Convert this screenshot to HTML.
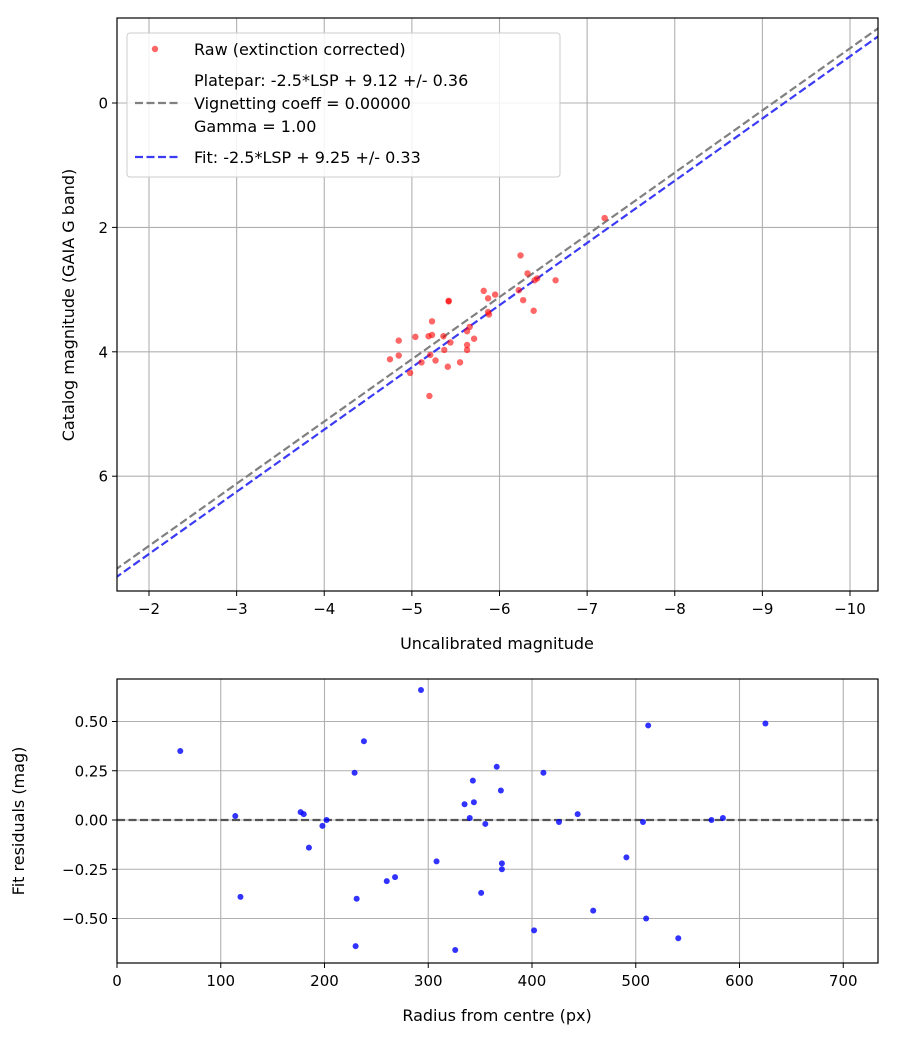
<!DOCTYPE html>
<html><head><meta charset="utf-8"><style>
body{margin:0;background:#fff;}
svg{font-family:"DejaVu Sans","Liberation Sans",sans-serif;}
</style></head><body>
<svg id="c" width="900" height="1050" xmlns="http://www.w3.org/2000/svg"></svg>
<script>
const rawX=[-7.20,-6.24,-6.32,-6.40,-6.43,-6.64,-6.22,-6.27,-6.39,-5.82,-5.87,-5.95,-5.42,-5.42,-5.87,-5.88,-5.23,-5.66,-5.63,-4.85,-5.04,-5.19,-5.23,-5.36,-5.44,-5.71,-5.63,-5.63,-5.37,-4.85,-4.75,-5.21,-5.27,-5.11,-5.55,-5.41,-4.98,-5.20];
const rawY=[1.85,2.45,2.74,2.85,2.82,2.85,3.01,3.17,3.34,3.02,3.14,3.08,3.18,3.19,3.36,3.40,3.51,3.60,3.67,3.82,3.76,3.75,3.73,3.75,3.85,3.79,3.89,3.97,3.97,4.06,4.12,4.05,4.14,4.17,4.17,4.24,4.34,4.71];
const plateOffset=9.12, fitOffset=9.25;
const resR=[61,114,119,177,180,185,198,202,229,231,230,238,260,268,293,308,326,335,340,343,344,351,355,366,370,371,371,402,411,426,444,459,491,507,510,512,541,573,584,625];
const resV=[0.35,0.02,-0.39,0.04,0.03,-0.14,-0.03,0.00,0.24,-0.40,-0.64,0.40,-0.31,-0.29,0.66,-0.21,-0.66,0.08,0.01,0.20,0.09,-0.37,-0.02,0.27,0.15,-0.22,-0.25,-0.56,0.24,-0.01,0.03,-0.46,-0.19,-0.01,-0.50,0.48,-0.60,0.00,0.01,0.49];
const topXTicks=[-2,-3,-4,-5,-6,-7,-8,-9,-10];
const topYTicks=[0,2,4,6];
const botXTicks=[0,100,200,300,400,500,600,700];
const botYTicks=[0.5,0.25,0,-0.25,-0.5];
const botYLabels=["0.50","0.25","0.00","\u22120.25","\u22120.50"];

const S=document.getElementById('c');const NS='http://www.w3.org/2000/svg';
function mk(t,a,p){const e=document.createElementNS(NS,t);for(const k in a)e.setAttribute(k,a[k]);(p||S).appendChild(e);return e;}
function txt(s,a,p){const e=mk('text',a,p);e.textContent=s;return e;}
const minus=v=>String(v).replace('-','\u2212');

const T={l:117,r:878,t:18,b:591};
const tx=v=>149+(-v-2)*87.625, ty=v=>103+v*62.2;
const gTop=mk('g',{});
topXTicks.forEach(v=>{const x=tx(v);
 const g=mk('line',{x1:x,x2:x,y1:T.t,y2:T.b,stroke:'#b0b0b0','stroke-width':1.1},gTop);
 mk('line',{x1:x,x2:x,y1:T.b,y2:T.b+5,stroke:'#000'},gTop);
 const t=txt(minus(v),{x:x,y:T.b+23,'text-anchor':'middle','font-size':15},gTop);});
topYTicks.forEach(v=>{const y=ty(v);
 const g=mk('line',{x1:T.l,x2:T.r,y1:y,y2:y,stroke:'#b0b0b0','stroke-width':1.1},gTop);
 mk('line',{x1:T.l-5,x2:T.l,y1:y,y2:y,stroke:'#000'},gTop);
 const t=txt(minus(v),{x:T.l-9,y:y+5.5,'text-anchor':'end','font-size':15},gTop);});
const cp=mk('clipPath',{id:'cp1'});mk('rect',{x:T.l,y:T.t,width:T.r-T.l,height:T.b-T.t},cp);
const x0=-1.5,x1=-10.5;
const lp=mk('line',{x1:tx(x0),y1:ty(x0+plateOffset),x2:tx(x1),y2:ty(x1+plateOffset),stroke:'#808080','stroke-width':2.2,'stroke-dasharray':'8,3.5','clip-path':'url(#cp1)'},gTop);

const lf=mk('line',{x1:tx(x0),y1:ty(x0+fitOffset),x2:tx(x1),y2:ty(x1+fitOffset),stroke:'#3b3bf5','stroke-width':2.2,'stroke-dasharray':'8,3.5','clip-path':'url(#cp1)'},gTop);

rawX.forEach((v,i)=>{const c=mk('circle',{cx:tx(v),cy:ty(rawY[i]),r:3.2,fill:'rgba(255,0,0,0.6)'},gTop);
 });
mk('rect',{x:T.l,y:T.t,width:T.r-T.l,height:T.b-T.t,fill:'none',stroke:'#000','stroke-width':1.2},gTop);
const L=mk('g',{});
mk('rect',{x:127,y:33,width:433,height:144,rx:3,fill:'rgba(255,255,255,0.85)',stroke:'#ccc'},L);
mk('circle',{cx:155,cy:49,r:3.2,fill:'rgba(255,0,0,0.6)'},L);
txt('Raw (extinction corrected)',{x:194,y:55,'font-size':16},L);
mk('line',{x1:135,x2:180,y1:103,y2:103,stroke:'#808080','stroke-width':2.2,'stroke-dasharray':'8,3.5'},L);
txt('Platepar: -2.5*LSP + 9.12 +/- 0.36',{x:194,y:86,'font-size':16},L);
txt('Vignetting coeff = 0.00000',{x:194,y:109,'font-size':16},L);
txt('Gamma = 1.00',{x:194,y:132,'font-size':16},L);
mk('line',{x1:135,x2:180,y1:157,y2:157,stroke:'#3b3bf5','stroke-width':2.2,'stroke-dasharray':'8,3.5'},L);
txt('Fit: -2.5*LSP + 9.25 +/- 0.33',{x:194,y:163,'font-size':16},L);
let a=txt('Uncalibrated magnitude',{x:497,y:649,'text-anchor':'middle','font-size':16});
a=txt('Catalog magnitude (GAIA G band)',{x:0,y:0,'text-anchor':'middle','font-size':16,transform:'translate(74,305) rotate(-90)'});

const B={l:117,r:878,t:679,b:963};
const bx=v=>117+v*1.0375, by=v=>820-v*197;
const gB=mk('g',{});
botXTicks.forEach(v=>{const x=bx(v);
 const g=mk('line',{x1:x,x2:x,y1:B.t,y2:B.b,stroke:'#b0b0b0','stroke-width':1.1},gB);
 mk('line',{x1:x,x2:x,y1:B.b,y2:B.b+5,stroke:'#000'},gB);
 const t=txt(String(v),{x:x,y:B.b+23,'text-anchor':'middle','font-size':15},gB);});
botYTicks.forEach((v,i)=>{const y=by(v);
 const g=mk('line',{x1:B.l,x2:B.r,y1:y,y2:y,stroke:'#b0b0b0','stroke-width':1.1},gB);
 mk('line',{x1:B.l-5,x2:B.l,y1:y,y2:y,stroke:'#000'},gB);
 const t=txt(botYLabels[i],{x:B.l-9,y:y+5.5,'text-anchor':'end','font-size':15},gB);});
const zl=mk('line',{x1:B.l,x2:B.r,y1:by(0),y2:by(0),stroke:'#555','stroke-width':2.2,'stroke-dasharray':'8,3.5'},gB);

resR.forEach((v,i)=>{const c=mk('circle',{cx:bx(v),cy:by(resV[i]),r:3,fill:'rgba(0,0,255,0.8)'},gB);
 });
mk('rect',{x:B.l,y:B.t,width:B.r-B.l,height:B.b-B.t,fill:'none',stroke:'#000','stroke-width':1.2},gB);
a=txt('Radius from centre (px)',{x:497,y:1021,'text-anchor':'middle','font-size':16});
a=txt('Fit residuals (mag)',{x:0,y:0,'text-anchor':'middle','font-size':16,transform:'translate(24,821) rotate(-90)'});
</script>
</body></html>
